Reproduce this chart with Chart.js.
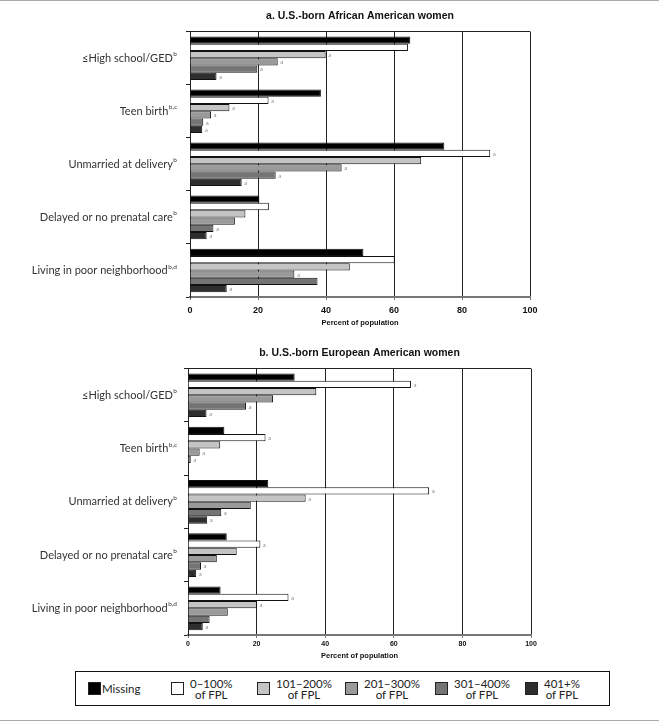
<!DOCTYPE html>
<html>
<head>
<meta charset="utf-8">
<script src="https://cdn.jsdelivr.net/npm/chart.js@4.4.1/dist/chart.umd.min.js"></script>
<style>
  body { margin: 0; background: #fff; }
  #page { position: relative; width: 659px; height: 722px; overflow: hidden; }
  .rule { position: absolute; left: 0; width: 659px; height: 1px; background: #aaa; }
  canvas { position: absolute; left: 0; }
  #legend { position: absolute; left: 75px; top: 671px; width: 533px; height: 33px;
            border: 1px solid #111; font-family: Lato, "Open Sans", sans-serif; font-size: 11.5px; color: #222; }
  .item { position: absolute; top: 0; height: 33px; display: flex; align-items: center; }
  .box { width: 11px; height: 11px; border: 1px solid #222; margin-right: 6px; }
  .lab { text-align: center; line-height: 11px; }
</style>
</head>
<body>
<div id="page">
  <div class="rule" style="top:0"></div>
  <canvas id="chartA" width="659" height="330" style="top:0"></canvas>
  <canvas id="chartB" width="659" height="330" style="top:337px"></canvas>
  <div id="legend"></div>
  <div class="rule" style="top:720px"></div>
</div>
<script>
// categories (with their footnote marks)
var categories = ["≤High school/GED", "Teen birth", "Unmarried at delivery", "Delayed or no prenatal care", "Living in poor neighborhood"];
var catNotes = ["b", "b,c", "b", "b", "b,d"];

// series = income groups
var seriesNames = ["Missing", "0–100% of FPL", "101–200% of FPL", "201–300% of FPL", "301–400% of FPL", "401+% of FPL"];
var seriesFills = ["#000000", "#ffffff", "#c4c4c4", "#9a9a9a", "#747474", "#2e2e2e"];
var xTicks = [0, 20, 40, 60, 80, 100];

// a. U.S.-born African American women (percent)
var afMissing = [64.8, 38.5, 74.8, 20.4, 51.0];
var af0to100 = [64.1, 23.1, 88.3, 23.2, 60.2];
var af101to200 = [39.9, 11.6, 68.0, 16.3, 47.0];
var af201to300 = [25.8, 6.2, 44.6, 13.2, 30.7];
var af301to400 = [19.8, 3.9, 25.2, 6.9, 37.5];
var af401plus = [7.8, 3.6, 15.2, 4.9, 10.8];
var afMarks = [
  ["", "", "", "", ""],
  ["", "a", "a", "", ""],
  ["a", "a", "", "", ""],
  ["a", "a", "a", "", "a"],
  ["a", "a", "a", "a", ""],
  ["a", "a", "a", "a", "a"]
];

// b. U.S.-born European American women (percent)
var euMissing = [31.1, 10.6, 23.4, 11.3, 9.5];
var eu0to100 = [65.0, 22.6, 70.3, 21.1, 29.3];
var eu101to200 = [37.4, 9.4, 34.3, 14.2, 20.1];
var eu201to300 = [24.8, 3.4, 18.3, 8.4, 11.6];
var eu301to400 = [16.9, 0.8, 9.7, 3.8, 6.3];
var eu401plus = [5.4, 0, 5.6, 2.4, 4.3];
var euMarks = [
  ["", "", "", "", ""],
  ["a", "a", "a", "a", "a"],
  ["", "", "a", "", "a"],
  ["", "a", "", "", ""],
  ["a", "a", "a", "a", ""],
  ["a", "", "a", "a", "a"]
];

var labelFont = 'Lato, "Open Sans", sans-serif';
var boldFont = '"Liberation Sans", Arial, sans-serif';

// y labels with superscript footnotes
var catLabels = {
  id: "catLabels",
  afterDraw: function (chart, args, opts) {
    var ctx = chart.ctx, y = chart.scales.y;
    ctx.save();
    ctx.fillStyle = "#333";
    ctx.textBaseline = "middle";
    categories.forEach(function (c, i) {
      var py = y.getPixelForValue(i);
      ctx.font = "6.5px " + labelFont;
      var sw = ctx.measureText(catNotes[i]).width;
      ctx.textAlign = "right";
      ctx.fillText(catNotes[i], opts.right, py - 4);
      ctx.font = "11px " + labelFont;
      ctx.fillText(c, opts.right - sw - 0.5, py);
    });
    ctx.restore();
  }
};

// small letters after bars
var barNotes = {
  id: "barNotes",
  afterDatasetsDraw: function (chart, args, opts) {
    var ctx = chart.ctx;
    ctx.save();
    ctx.fillStyle = "#888";
    ctx.font = "6px " + labelFont;
    ctx.textBaseline = "middle";
    ctx.textAlign = "left";
    chart.data.datasets.forEach(function (ds, d) {
      chart.getDatasetMeta(d).data.forEach(function (bar, i) {
        var m = opts.marks[d][i];
        if (m) ctx.fillText(m, bar.x + 2.5, bar.y + 0.5);
      });
    });
    ctx.restore();
  }
};

function makeChart(id, title, rows, marks, g) {
  var datasets = rows.map(function (vals, s) {
    return {
      label: seriesNames[s],
      data: vals,
      backgroundColor: seriesFills[s],
      borderColor: "#111",
      borderWidth: 1,
      barPercentage: 1,
      categoryPercentage: 0.82
    };
  });
  return new Chart(document.getElementById(id), {
    type: "bar",
    data: { labels: categories, datasets: datasets },
    plugins: [catLabels, barNotes],
    options: {
      indexAxis: "y",
      responsive: false,
      animation: false,
      devicePixelRatio: 1,
      layout: { padding: { left: 0, right: 659 - g.right, top: 0, bottom: 0 } },
      plugins: {
        legend: { display: false },
        tooltip: { enabled: false },
        title: {
          display: true, text: title, fullSize: false, color: "#111",
          font: { family: boldFont, size: 10.5, weight: "bold" },
          padding: { top: 10, bottom: 9 }
        },
        catLabels: { right: g.labelRight },
        barNotes: { marks: marks }
      },
      scales: {
        x: {
          min: 0, max: 100,
          afterBuildTicks: function (s) { s.ticks = xTicks.map(function (v) { return { value: v }; }); },
          ticks: { color: "#111", font: { family: boldFont, size: g.tickSize, weight: "bold" }, padding: g.tickPad },
          grid: {
            color: function (c) { return c.tick && c.tick.value === 0 ? "rgba(0,0,0,0)" : "#222"; },
            lineWidth: 1, tickLength: 3, tickColor: "#777"
          },
          border: { color: "#777", width: 2 },
          title: {
            display: true, text: "Percent of population", color: "#111",
            font: { family: boldFont, size: 7.5, weight: "bold" },
            padding: { top: 0, bottom: g.titlePad }
          },
          afterFit: function (s) { s.height = 330 - g.bottom; }
        },
        y: {
          ticks: { display: false },
          grid: {
            offset: true, drawOnChartArea: true, tickLength: 4, tickColor: "#222",
            color: function (c) { return c.index === 0 ? "#222" : "rgba(0,0,0,0)"; }
          },
          border: { color: "#222", width: 1 },
          afterFit: function (s) { s.width = g.left; }
        }
      }
    }
  });
}

makeChart("chartA", "a. U.S.-born African American women",
  [afMissing, af0to100, af101to200, af201to300, af301to400, af401plus], afMarks,
  { left: 190, right: 530, bottom: 297, tickSize: 9, tickPad: 5, titlePad: 2.5, labelRight: 177 });

makeChart("chartB", "b. U.S.-born European American women",
  [euMissing, eu0to100, eu101to200, eu201to300, eu301to400, eu401plus], euMarks,
  { left: 188, right: 531, bottom: 298, tickSize: 7, tickPad: 2, titlePad: 6.8, labelRight: 177 });

// legend
var legendLeft = [12, 95, 181, 269, 359, 449];
var legend = document.getElementById("legend");
seriesNames.forEach(function (name, s) {
  var item = document.createElement("div");
  item.className = "item";
  item.style.left = legendLeft[s] + "px";
  var box = document.createElement("div");
  box.className = "box";
  box.style.background = seriesFills[s];
  if (s === 0) box.style.marginRight = "1px";
  var lab = document.createElement("div");
  lab.className = "lab";
  var parts = name.split(" of ");
  lab.innerHTML = parts.length > 1 ? parts[0] + "<br>of " + parts[1] : name;
  item.appendChild(box);
  item.appendChild(lab);
  legend.appendChild(item);
});
</script>
</body>
</html>
